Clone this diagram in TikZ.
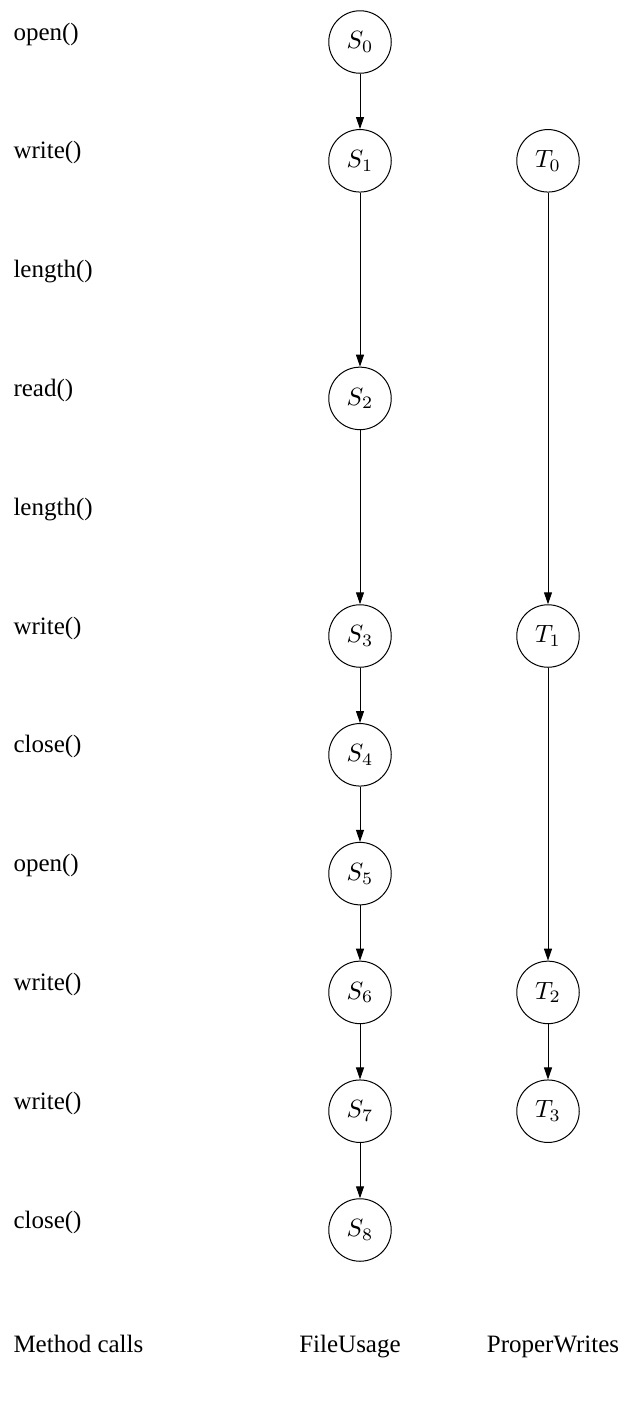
\documentclass[tikz,border=0pt]{standalone}
\usepackage[no-math]{fontspec}
\setmainfont{Liberation Serif}
\usetikzlibrary{arrows.meta,math}

\begin{document}
\begin{tikzpicture}[x=0.4pt,y=-0.4pt,
    state/.style={draw, circle, minimum size=25pt, inner sep=0pt, line width=0.4pt},
    call/.style={anchor=west, inner sep=0pt},
    title/.style={anchor=base, inner sep=0pt},
    trans/.style={-{Triangle[length=4.8pt,width=3.2pt]}, line width=0.4pt}]
  \tikzmath{\xs = 360; \xt = 548; \dy = 118.8; \yo = 42; \up = 8; \xl = 13; \yb = 1352;}
  \useasboundingbox (0,0) rectangle (624,1402);
  % method calls
  \node[call] (m0) at (\xl,{\yo+0*\dy-\up}) {open()};
  \node[call] (m1) at (\xl,{\yo+1*\dy-\up}) {write()};
  \node[call] (m2) at (\xl,{\yo+2*\dy-\up}) {length()};
  \node[call] (m3) at (\xl,{\yo+3*\dy-\up}) {read()};
  \node[call] (m4) at (\xl,{\yo+4*\dy-\up}) {length()};
  \node[call] (m5) at (\xl,{\yo+5*\dy-\up}) {write()};
  \node[call] (m6) at (\xl,{\yo+6*\dy-\up}) {close()};
  \node[call] (m7) at (\xl,{\yo+7*\dy-\up}) {open()};
  \node[call] (m8) at (\xl,{\yo+8*\dy-\up}) {write()};
  \node[call] (m9) at (\xl,{\yo+9*\dy-\up}) {write()};
  \node[call] (m10) at (\xl,{\yo+10*\dy-\up}) {close()};
  % FileUsage
  \node[state] (s0) at (\xs,{\yo+0*\dy}) {$S_0$};
  \node[state] (s1) at (\xs,{\yo+1*\dy}) {$S_1$};
  \node[state] (s2) at (\xs,{\yo+3*\dy}) {$S_2$};
  \node[state] (s3) at (\xs,{\yo+5*\dy}) {$S_3$};
  \node[state] (s4) at (\xs,{\yo+6*\dy}) {$S_4$};
  \node[state] (s5) at (\xs,{\yo+7*\dy}) {$S_5$};
  \node[state] (s6) at (\xs,{\yo+8*\dy}) {$S_6$};
  \node[state] (s7) at (\xs,{\yo+9*\dy}) {$S_7$};
  \node[state] (s8) at (\xs,{\yo+10*\dy}) {$S_8$};
  % ProperWrites
  \node[state] (t0) at (\xt,{\yo+1*\dy}) {$T_0$};
  \node[state] (t1) at (\xt,{\yo+5*\dy}) {$T_1$};
  \node[state] (t2) at (\xt,{\yo+8*\dy}) {$T_2$};
  \node[state] (t3) at (\xt,{\yo+9*\dy}) {$T_3$};
  \draw[trans] (s0) -- (s1);
  \draw[trans] (s1) -- (s2);
  \draw[trans] (s2) -- (s3);
  \draw[trans] (s3) -- (s4);
  \draw[trans] (s4) -- (s5);
  \draw[trans] (s5) -- (s6);
  \draw[trans] (s6) -- (s7);
  \draw[trans] (s7) -- (s8);
  \draw[trans] (t0) -- (t1);
  \draw[trans] (t1) -- (t2);
  \draw[trans] (t2) -- (t3);
  % column titles
  \node[title, anchor=base west] (calls) at (\xl,\yb) {Method calls};
  \node[title] (fu) at (350,\yb) {FileUsage};
  \node[title] (pw) at (553,\yb) {ProperWrites};
\end{tikzpicture}
\end{document}
